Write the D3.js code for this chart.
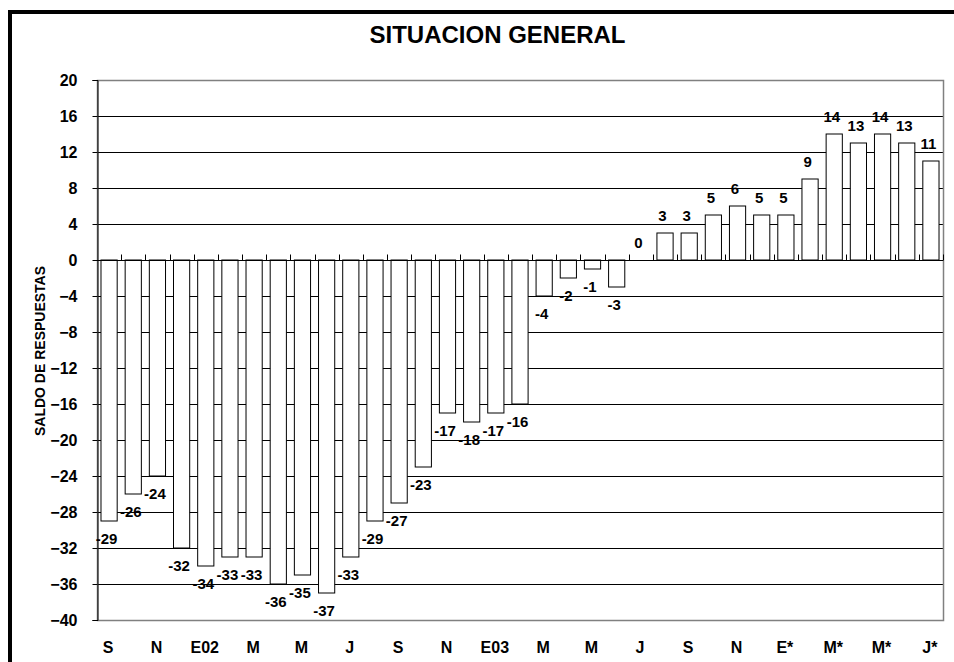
<!DOCTYPE html>
<html>
<head>
<meta charset="utf-8">
<script src="https://cdn.jsdelivr.net/npm/d3@7"></script>
<style>
  html, body { margin: 0; padding: 0; background: #fff; }
  svg { display: block; }
  text { font-family: Arial, "Liberation Sans", sans-serif; font-weight: bold; fill: #000; }
</style>
</head>
<body>
<svg id="chart" width="954" height="662"></svg>
<script>
// ---- data ----
const months = ["S","O","N","D","E02","F","M","A","M","J","J","A",
                "S","O","N","D","E03","F","M","A","M","J","J","A",
                "S","O","N","D","E*","F*","M*","A*","M*","J*","J*"];
const values = [-29,-26,-24,-32,-34,-33,-33,-36,-35,-37,-33,-29,
                -27,-23,-17,-18,-17,-16,-4,-2,-1,-3,0,3,
                3,5,6,5,5,9,14,13,14,13,11];
const yTicks = [20,16,12,8,4,0,-4,-8,-12,-16,-20,-24,-28,-32,-36,-40];
const title = "SITUACION GENERAL";
const yTitle = "SALDO DE RESPUESTAS";

// ---- layout ----
const svg = d3.select("#chart");
const pL = 97, pR = 943, pT = 80, pB = 620;

// outer thick frame
svg.append("rect")
  .attr("x", 10).attr("y", 12).attr("width", 1000).attr("height", 700)
  .attr("fill", "#fff").attr("stroke", "#000").attr("stroke-width", 4);

const idx = d3.range(values.length);
const x = d3.scaleBand().domain(idx).range([pL, pR])
  .paddingInner(0.33).paddingOuter(0.165);
const y = d3.scaleLinear().domain([-40, 20]).range([pB, pT]);

// title
svg.append("text").attr("x", 497.5).attr("y", 43)
  .attr("text-anchor", "middle").attr("font-size", 24).text(title);

// y title
svg.append("text")
  .attr("transform", `translate(45,351) rotate(-90)`)
  .attr("text-anchor", "middle").attr("font-size", 14).text(yTitle);

// gridlines
const gridVals = yTicks.filter(v => v !== 20 && v !== -40 && v !== 0);
svg.append("g").selectAll("line").data(gridVals).join("line")
  .attr("x1", pL).attr("x2", pR)
  .attr("y1", d => Math.round(y(d)) + 0.5).attr("y2", d => Math.round(y(d)) + 0.5)
  .attr("stroke", "#000").attr("stroke-width", 1);

// plot border (gray)
svg.append("rect")
  .attr("x", pL + 0.5).attr("y", pT + 0.5)
  .attr("width", pR - pL).attr("height", pB - pT)
  .attr("fill", "none").attr("stroke", "#808080").attr("stroke-width", 1.5);

// bars
svg.append("g").selectAll("rect").data(idx).join("rect")
  .attr("x", i => x(i))
  .attr("width", x.bandwidth())
  .attr("y", i => y(Math.max(0, values[i])))
  .attr("height", i => Math.abs(y(values[i]) - y(0)))
  .attr("fill", "#fff").attr("stroke", "#000").attr("stroke-width", 1);

// y axis
const yAxis = d3.axisLeft(y).tickValues(yTicks).tickSize(5).tickFormat(d3.format("d"));
const yg = svg.append("g").attr("transform", `translate(${pL + 0.5},0)`).call(yAxis);
yg.select(".domain").attr("stroke", "#000");
yg.selectAll(".tick line").attr("stroke", "#000");
yg.selectAll(".tick text").attr("font-size", 16).attr("x", -20).attr("dy", "0.36em")
  .attr("font-family", "Arial, 'Liberation Sans', sans-serif").attr("font-weight", "bold");

// x axis at zero with upward ticks at category boundaries
const zeroY = Math.round(y(0)) + 0.5;
svg.append("line").attr("x1", pL).attr("x2", pR)
  .attr("y1", zeroY).attr("y2", zeroY).attr("stroke", "#000").attr("stroke-width", 1);
const step = x.step();
const bounds = d3.range(1, values.length + 1).map(k => pL + k * step);
svg.append("g").selectAll("line").data(bounds).join("line")
  .attr("x1", d => Math.round(d) + 0.5).attr("x2", d => Math.round(d) + 0.5)
  .attr("y1", zeroY - 6).attr("y2", zeroY)
  .attr("stroke", "#000").attr("stroke-width", 1);

// x labels (every other month)
svg.append("g").selectAll("text").data(idx.filter(i => i % 2 === 0)).join("text")
  .attr("x", i => x(i) + x.bandwidth() / 2 - 1)
  .attr("y", 653)
  .attr("text-anchor", "middle").attr("font-size", 16)
  .text(i => months[i]);

// data labels
svg.append("g").selectAll("text").data(idx).join("text")
  .attr("x", i => x(i) + x.bandwidth() / 2 - 2.5)
  .attr("y", i => values[i] >= 0 ? y(values[i]) - 11.6 : y(values[i]) + 22.9)
  .attr("text-anchor", "middle").attr("font-size", 15)
  .text(i => values[i]);
</script>
</body>
</html>
